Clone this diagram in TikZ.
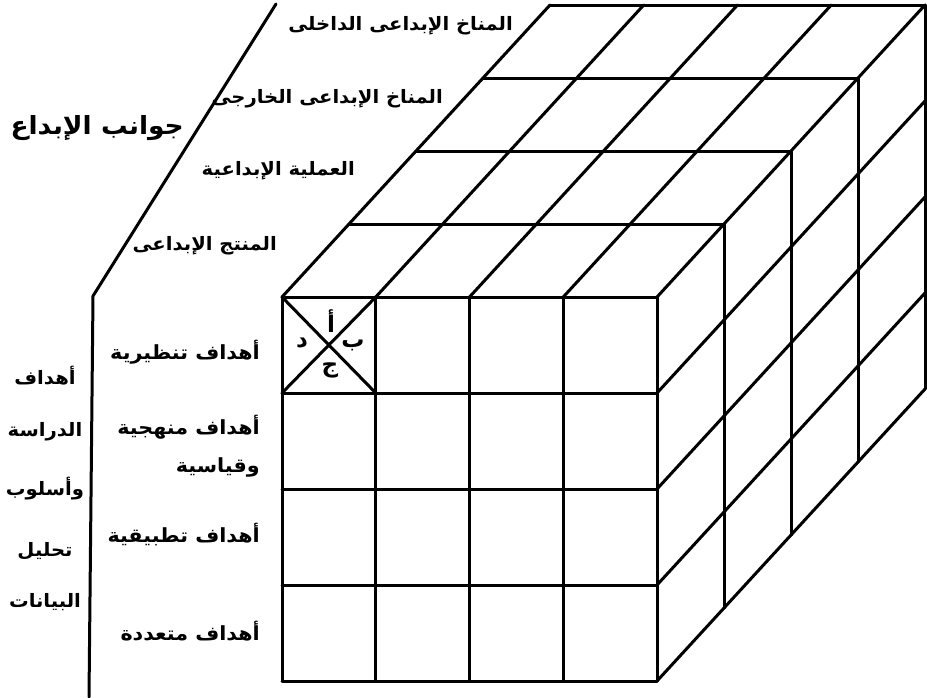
\documentclass[tikz,border=0pt]{standalone}
\usepackage{graphicx}
\usepackage{fontspec}
\newfontfamily\arabicfont[Script=Arabic]{DejaVu Sans}
\TeXXeTstate=1
\newcommand{\artext}[1]{\scalebox{1.06}[1]{\beginR #1\endR}}
\begin{document}
\begin{tikzpicture}[x=1pt,y=-1pt,line join=round,line cap=round,
  grid/.style={line width=3pt},
  axis/.style={line width=3pt},
  lbl/.style={font=\arabicfont\bfseries\fontsize{18.5}{24}\selectfont,inner sep=0pt},
  rowlbl/.style={font=\arabicfont\bfseries\fontsize{19.5}{24}\selectfont,inner sep=0pt},
  biglbl/.style={font=\arabicfont\bfseries\fontsize{25}{30}\selectfont,inner sep=0pt},
  letter/.style={font=\arabicfont\bfseries\fontsize{23}{24}\selectfont,inner sep=0pt}]
\useasboundingbox (0,0) rectangle (927,697);
% front face, 4 x 4 cells
\foreach \i in {0,...,4}
  \draw[grid] (282+\i*93.75,297) -- ++(0,384);
\foreach \j in {0,...,4}
  \draw[grid] (282,297+\j*96) -- ++(375,0);
% top face
\foreach \k in {1,...,4}
  \draw[grid] (282+\k*67,297-\k*73) -- ++(375,0);
\foreach \i in {0,...,4}
  \draw[grid] (282+\i*93.75,297) -- ++(268,-292);
% right face
\foreach \k in {1,...,4}
  \draw[grid] (657+\k*67,297-\k*73) -- ++(0,384);
\foreach \j in {1,...,4}
  \draw[grid] (657,297+\j*96) -- ++(268,-292);
% crossed first cell
\draw[grid] (282,297) -- (375.75,393);
\draw[grid] (375.75,297) -- (282,393);
\node[letter] (alef) at (331,321) {\beginR أ\endR};
\node[letter] (ba) at (353,345) {\beginR ب\endR};
\node[letter] (jim) at (330,370) {\beginR ج\endR};
\node[letter] (dal) at (302,343) {\beginR د\endR};
% axes
\draw[axis] (276,4) -- (93,296) -- (89,697);
\node[biglbl,anchor=east] (aspects) at (184,128) {\artext{جوانب الإبداع}};
% creativity aspects along the depth
\node[lbl,anchor=east] (inner) at (513,26) {\artext{المناخ الإبداعى الداخلى}};
\node[lbl,anchor=east] (outer) at (443,99) {\artext{المناخ الإبداعى الخارجى}};
\node[lbl,anchor=east] (process) at (355,171) {\artext{العملية الإبداعية}};
\node[lbl,anchor=east] (product) at (277,246) {\artext{المنتج الإبداعى}};
% objectives along the rows
\node[rowlbl,anchor=east] (theory) at (260,352) {\artext{أهداف تنظيرية}};
\node[rowlbl,anchor=east,align=right] (method) at (260,446)
  {\artext{أهداف منهجية}\\[14pt]\artext{وقياسية}};
\node[rowlbl,anchor=east] (applied) at (260,534) {\artext{أهداف تطبيقية}};
\node[rowlbl,anchor=east] (multi) at (260,631) {\artext{أهداف متعددة}};
% study objectives and data analysis
\foreach \w/\y in {أهداف/376,الدراسة/432,وأسلوب/489,تحليل/551,البيانات/602}
  \node[lbl] (obj\y) at (45,\y) {\artext{\w}};
\end{tikzpicture}
\end{document}
